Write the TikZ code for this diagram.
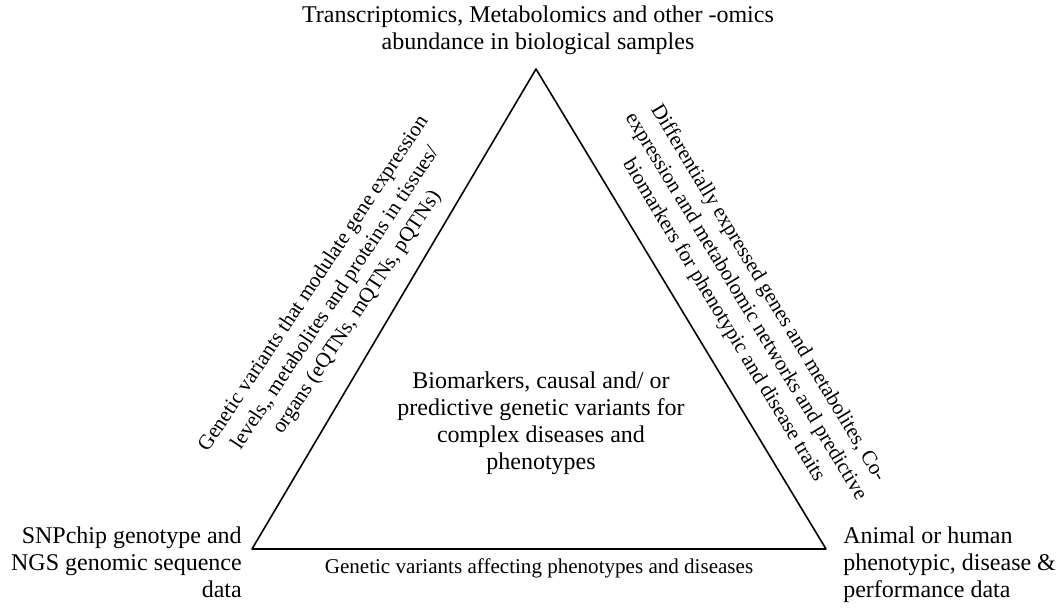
\documentclass[tikz,border=0pt]{standalone}
\usepackage{fontspec}
\setmainfont{Liberation Serif}
\begin{document}
\begin{tikzpicture}[x=0.75pt,y=-0.75pt,line join = round, line cap = round,font=\fontsize{18}{20.25}\selectfont]
			\def \small{\fontsize{15.8}{19.5}\selectfont};
			\tikzset{vertex/.style={inner sep=0pt,align=center},
				side/.style={inner sep=0pt,align=center,sloped,font=\small}}
			\useasboundingbox (0,0) rectangle (1063,608);
			\coordinate (L) at (252,549);
			\coordinate (T) at (536,69);
			\coordinate (R) at (826,549);
			\draw[line width=1.2pt] (L) -- node[side,above=14.5pt,pos=0.46,rotate=-3] (gv) {Genetic variants that modulate gene expression\\levels,, metabolites and proteins in tissues/\\organs (eQTNs, mQTNs, pQTNs)} (T)
				-- node[side,above=15pt,pos=0.556] (de) {Differentially expressed genes and metabolites, Co-\\expression and metabolomic networks and predictive\\biomarkers for phenotypic and disease traits} (R)
				-- node[vertex,font=\small,below=7pt] (ga) {Genetic variants affecting phenotypes and diseases} (L) -- cycle;
			\node[vertex,anchor=north] (omics) at (538,6) {Transcriptomics, Metabolomics and other -omics\\abundance in biological samples};
			\node[vertex,anchor=north] (bio) at (541,372) {Biomarkers, causal and/ or\\predictive genetic variants for\\complex diseases and\\phenotypes};
			\node[vertex,align=right,anchor=north east] (snp) at (242,527) {SNPchip genotype and\\NGS genomic sequence\\data};
			\node[vertex,align=left,anchor=north west] (pheno) at (843,527) {Animal or human\\phenotypic, disease \&\\performance data};
			\end{tikzpicture}
\end{document}
